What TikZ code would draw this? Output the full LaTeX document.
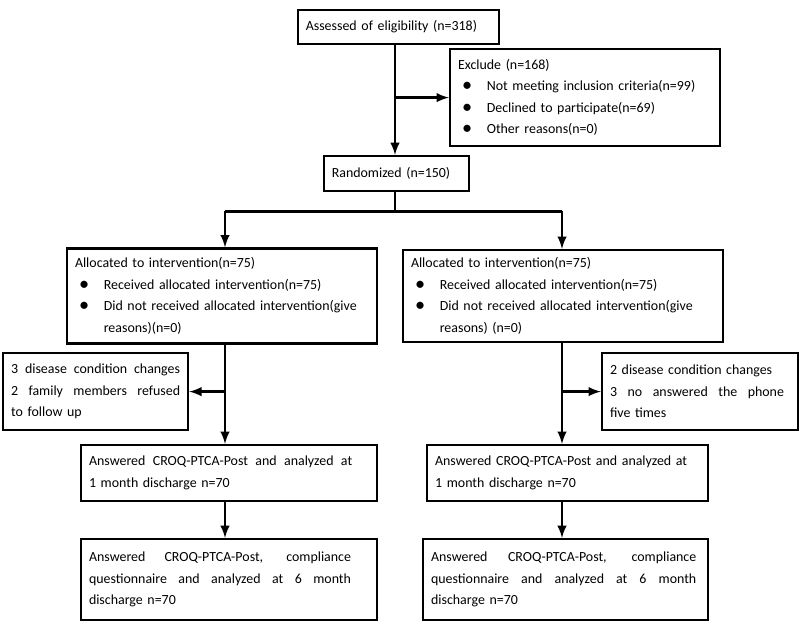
\documentclass[tikz,border=0pt]{standalone}
\usepackage{fontspec}
\setmainfont{Carlito}
\usetikzlibrary{arrows,positioning}

% stretched line and bullet entry
\newcommand{\jline}[2][\linewidth]{{\spaceskip=0pt\xspaceskip=0pt\makebox[#1][s]{#2}}}
\newcommand{\bitem}[1]{\hspace*{0.1cm}\makebox[0.62cm][l]{\raisebox{-0.1ex}{\Large\textbullet}}#1}

\tikzset{
  box/.style={rectangle,draw,line width=1.6pt,inner xsep=0.2cm,inner ysep=0.1cm,
    align=left,font=\fontsize{9.9}{15.3}\selectfont},
  link/.style={line width=2pt},
  arr/.style={link,-latex}
}

\begin{document}
\begin{tikzpicture}
\useasboundingbox (0,0) rectangle (20,-15.55);

% columns of the connectors
\coordinate (spine) at (9.875,0);
\coordinate (lcol) at (5.625,0);
\coordinate (rcol) at (14.05,0);

% enrollment
\node[box,text width=4.63cm,minimum height=0.85cm] (assess) at (9.96,-0.675)
  {Assessed of eligibility (n=318)};
\node[box,text width=6.35cm,minimum height=2.43cm] (exclude) at (14.625,-2.44)
  {Exclude (n=168)\\
   \bitem{Not meeting inclusion criteria(n=99)}\\
   \bitem{Declined to participate(n=69)}\\
   \bitem{Other reasons(n=0)}};
\node[box,text width=3.23cm,minimum height=0.875cm] (random) at (9.91,-4.34)
  {Randomized (n=150)};

% allocation
\node[box,text width=7.35cm,minimum height=2.375cm] (allocL) at (5.55,-7.4)
  {Allocated to intervention(n=75)\\
   \bitem{Received allocated intervention(n=75)}\\
   \bitem{Did not received allocated intervention(give}\\
   \hspace*{0.72cm}reasons)(n=0)};
\node[box,text width=7.6cm,minimum height=2.3cm] (allocR) at (14.075,-7.4)
  {Allocated to intervention(n=75)\\
   \bitem{Received allocated intervention(n=75)}\\
   \bitem{Did not received allocated intervention(give}\\
   \hspace*{0.72cm}reasons) (n=0)};

% losses
\node[box,text width=4.225cm,minimum height=1.925cm] (lossL) at (2.39,-9.79)
  {\jline{3 disease condition changes}\\
   \jline{2 family members refused}\\
   to follow up};
\node[box,text width=4.5cm,minimum height=1.925cm] (lossR) at (17.5,-9.79)
  {2 disease condition changes\\
   \jline[4.35cm]{3 no answered the phone}\\
   five times};

% follow-up at 1 month
\node[box,text width=7cm,minimum height=1.4cm] (monthL) at (5.725,-11.825)
  {\jline[6.58cm]{Answered CROQ-PTCA-Post and analyzed at}\\
   1 month discharge n=70};
\node[box,text width=6.625cm,minimum height=1.4cm] (monthR) at (14.19,-11.825)
  {Answered CROQ-PTCA-Post and analyzed at\\
   1 month discharge n=70};

% follow-up at 6 months
\node[box,text width=7cm,minimum height=2.025cm] (sixL) at (5.725,-14.49)
  {\jline[6.55cm]{Answered CROQ-PTCA-Post, compliance}\\
   \jline[6.55cm]{questionnaire and analyzed at 6 month}\\
   discharge n=70};
\node[box,text width=6.725cm,minimum height=2.025cm] (sixR) at (14.14,-14.49)
  {\jline[6.63cm]{Answered CROQ-PTCA-Post, compliance}\\
   \jline[6.63cm]{questionnaire and analyzed at 6 month}\\
   discharge n=70};

% connectors
\draw[arr] (assess.south -| spine) -- (random.north -| spine);
\draw[arr] (spine |- exclude.west) -- (exclude.west);
\draw[link] (random.south -| spine) -- ++(0,-0.475) coordinate (split);
\draw[link] (split -| lcol) -- (split -| rcol);
\draw[arr] (split -| lcol) -- (allocL.north -| lcol);
\draw[arr] (split -| rcol) -- (allocR.north -| rcol);

\draw[arr] (allocL.south -| lcol) -- (monthL.north -| lcol);
\draw[arr] (lcol |- lossL.east) -- (lossL.east);
\draw[arr] (monthL.south -| lcol) -- (sixL.north -| lcol);

\draw[arr] (allocR.south -| rcol) -- (monthR.north -| rcol);
\draw[arr] (rcol |- lossR.west) -- (lossR.west);
\draw[arr] (monthR.south -| rcol) -- (sixR.north -| rcol);
\end{tikzpicture}
\end{document}
